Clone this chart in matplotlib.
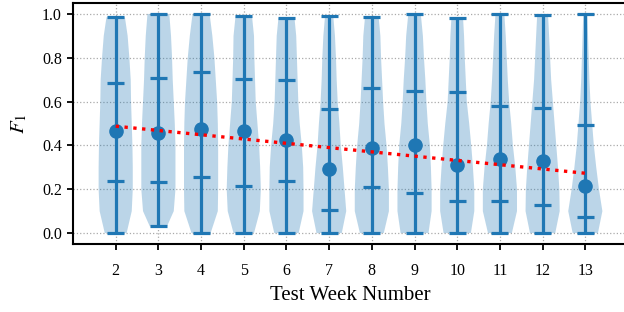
import numpy as np
import matplotlib
matplotlib.use("Agg")
import matplotlib.pyplot as plt

plt.rcParams["font.family"] = ["Liberation Serif", "DejaVu Serif"]
plt.rcParams["mathtext.fontset"] = "stix"

# F1 scores per test week
weeks = [2, 3, 4, 5, 6, 7, 8, 9, 10, 11, 12, 13]
f1_min = [0.0, 0.03, 0.0, 0.0, 0.0, 0.0, 0.0, 0.0, 0.0, 0.0, 0.0, 0.0]
f1_max = [0.985, 1.0, 1.0, 0.992, 0.982, 0.992, 0.986, 1.0, 0.983, 1.0, 0.994, 1.0]
f1_q1 = [0.236, 0.231, 0.254, 0.215, 0.237, 0.104, 0.210, 0.181, 0.145, 0.146, 0.128, 0.075]
f1_q3 = [0.683, 0.706, 0.734, 0.703, 0.700, 0.565, 0.661, 0.647, 0.642, 0.581, 0.571, 0.492]
f1_mean = [0.464, 0.458, 0.475, 0.464, 0.425, 0.292, 0.390, 0.402, 0.311, 0.338, 0.329, 0.216]

# violin density (relative width) at F1 = 0.0, 0.1, ..., 1.0
levels = np.linspace(0, 1, 11)
density = [
    [32, 47, 50, 50, 49, 47, 45, 44, 40, 35, 27],
    [25, 45, 50, 50, 50, 48, 45, 42, 40, 37, 32],
    [28, 49, 50, 50, 50, 49, 47, 43, 39, 33, 25],
    [30, 47, 50, 48, 45, 40, 35, 33, 31, 30, 24],
    [35, 49, 49, 48, 44, 38, 34, 32, 30, 28, 23],
    [37, 50, 45, 40, 34, 30, 25, 22, 20, 17, 12],
    [35, 50, 50, 47, 43, 37, 33, 30, 27, 25, 20],
    [40, 49, 49, 47, 44, 38, 34, 31, 27, 24, 18],
    [40, 50, 50, 46, 41, 35, 28, 25, 22, 20, 17],
    [35, 50, 50, 45, 38, 33, 27, 23, 20, 17, 13],
    [37, 50, 49, 45, 40, 35, 30, 25, 22, 19, 16],
    [37, 50, 40, 32, 25, 20, 15, 12, 10, 8, 6],
]

stats = []
for i in range(len(weeks)):
    stats.append({
        "coords": np.clip(levels, f1_min[i], f1_max[i]),
        "vals": np.array(density[i], dtype=float),
        "mean": f1_mean[i],
        "median": f1_mean[i],
        "min": f1_min[i],
        "max": f1_max[i],
        "quantiles": [f1_q1[i], f1_q3[i]],
    })

fig = plt.figure(figsize=(6.24, 3.12), dpi=100)
ax = fig.add_axes([73 / 624, (312 - 244) / 312, (628 - 73) / 624, (244 - 3) / 312])

parts = ax.violin(stats, positions=weeks, widths=0.8,
                  showmeans=False, showextrema=True, showmedians=False)
for body in parts["bodies"]:
    body.set_facecolor("C0")
    body.set_edgecolor("none")
    body.set_alpha(0.3)
for key in ("cmins", "cmaxes", "cbars", "cquantiles"):
    parts[key].set_color("C0")
    parts[key].set_linewidth(2.3)

ax.scatter(weeks, f1_mean, s=90, color="C0", zorder=3)

# linear trend of the weekly means
fit = np.polyfit(weeks, f1_mean, 1)
ax.plot(weeks, np.polyval(fit, weeks), ":", color="red", lw=2.4, zorder=4)

ax.set_xlim(1, 14)
ax.set_ylim(-0.05, 1.05)
ax.set_xticks(weeks)
ax.set_yticks(np.arange(0, 1.01, 0.2))
ax.set_yticklabels([f"{v:.1f}" for v in np.arange(0, 1.01, 0.2)])
ax.grid(True, linestyle=":", color="#aaaaaa", linewidth=0.9)
ax.set_axisbelow(True)
for s in ax.spines.values():
    s.set_linewidth(1.5)
ax.tick_params(length=4.5, width=1.3, labelsize=11.5)
ax.tick_params(axis="x", pad=9.5)
ax.set_xlabel("Test Week Number", fontsize=15, labelpad=5)
ax.set_ylabel("$F_1$", fontsize=15, labelpad=9)

fig.savefig("out.png", dpi=100)
